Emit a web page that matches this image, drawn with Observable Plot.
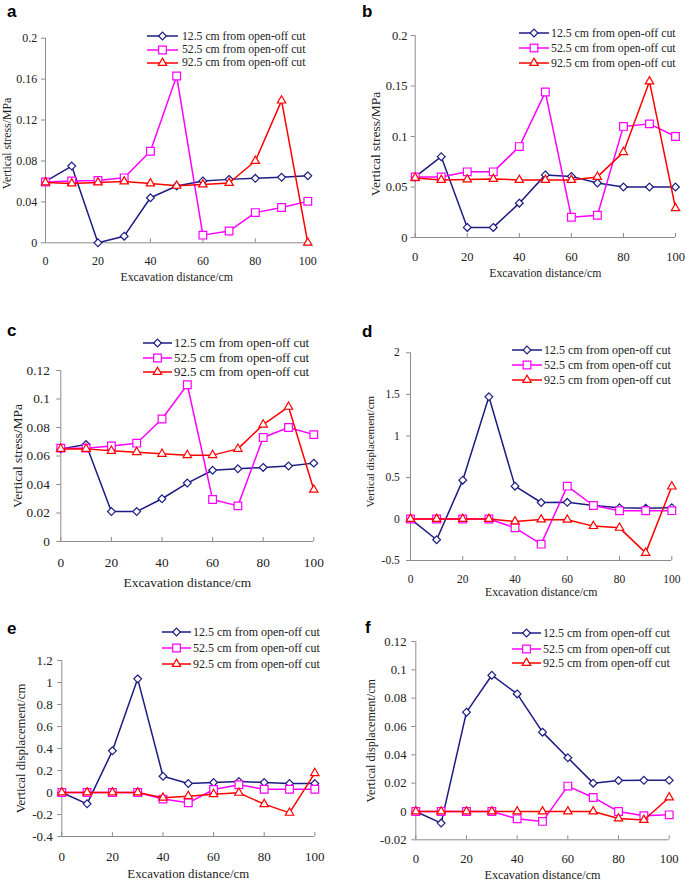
<!DOCTYPE html>
<html><head><meta charset="utf-8">
<script src="https://cdn.jsdelivr.net/npm/d3@7"></script>
<script src="https://cdn.jsdelivr.net/npm/@observablehq/plot@0.6"></script>
<style>
html,body{margin:0;padding:0;background:#fff;}
#root{position:relative;width:685px;height:883px;overflow:hidden;font-family:"Liberation Serif","Times New Roman",serif;color:#222;}
.lbl{position:absolute;font-family:"Liberation Sans",Arial,sans-serif;font-weight:bold;font-size:17px;line-height:17px;color:#000;}
.leg{position:absolute;display:flex;align-items:center;height:14px;white-space:nowrap;font-family:"Liberation Serif","Times New Roman",serif;color:#222;}
#root > svg{position:absolute;overflow:visible;font-family:"Liberation Serif","Times New Roman",serif !important;}
#root > svg text{font-family:"Liberation Serif","Times New Roman",serif !important;}
</style></head><body><div id="root"></div>
<script>
// ---------- data ----------
const distance = [0, 10, 20, 30, 40, 50, 60, 70, 80, 90, 100];
const seriesNames = ["12.5 cm from open-off cut", "52.5 cm from open-off cut", "92.5 cm from open-off cut"];
const xTicks = [0, 20, 40, 60, 80, 100];
const xTitle = "Excavation distance/cm";

// panel a: vertical stress (MPa)
const a125 = [0.060, 0.075, 0.000, 0.0065, 0.044, 0.0555, 0.0605, 0.062, 0.063, 0.064, 0.0655];
const a525 = [0.0595, 0.0605, 0.061, 0.0635, 0.0895, 0.163, 0.0075, 0.0115, 0.0295, 0.0345, 0.0405];
const a925 = [0.059, 0.058, 0.059, 0.060, 0.058, 0.0557, 0.057, 0.0585, 0.080, 0.139, 0.000];
const aYTicks = [0, 0.04, 0.08, 0.12, 0.16, 0.2];

// panel b: vertical stress (MPa)
const b125 = [0.060, 0.080, 0.010, 0.010, 0.034, 0.062, 0.0605, 0.054, 0.050, 0.050, 0.050];
const b525 = [0.060, 0.060, 0.065, 0.065, 0.090, 0.144, 0.020, 0.022, 0.110, 0.1125, 0.100];
const b925 = [0.059, 0.057, 0.0575, 0.058, 0.057, 0.057, 0.057, 0.060, 0.0845, 0.1545, 0.029];
const bYTicks = [0, 0.05, 0.1, 0.15, 0.2];

// panel c: vertical stress (MPa)
const c125 = [0.065, 0.068, 0.021, 0.021, 0.030, 0.041, 0.050, 0.051, 0.052, 0.053, 0.055];
const c525 = [0.0655, 0.0655, 0.067, 0.069, 0.086, 0.110, 0.0295, 0.025, 0.073, 0.080, 0.075];
const c925 = [0.065, 0.065, 0.0636, 0.0627, 0.0615, 0.0606, 0.0606, 0.065, 0.082, 0.0945, 0.0363];
const cYTicks = [0, 0.02, 0.04, 0.06, 0.08, 0.1, 0.12];

// panel d: vertical displacement (cm)
const d125 = [0, -0.25, 0.467, 1.47, 0.395, 0.198, 0.2, 0.162, 0.134, 0.13, 0.134];
const d525 = [0, 0, 0, 0, -0.107, -0.303, 0.395, 0.162, 0.098, 0.098, 0.1];
const d925 = [0, 0, 0, 0, -0.03, -0.006, -0.01, -0.086, -0.107, -0.408, 0.39];
const dYTicks = [-0.5, 0, 0.5, 1, 1.5, 2];

// panel e: vertical displacement (cm)
const e125 = [0, -0.103, 0.379, 1.033, 0.148, 0.082, 0.091, 0.1, 0.091, 0.082, 0.082];
const e525 = [0, 0, 0, 0, -0.06, -0.094, 0.027, 0.07, 0.03, 0.03, 0.03];
const e925 = [0, 0, 0, 0, -0.048, -0.033, -0.015, -0.003, -0.106, -0.185, 0.176];
const eYTicks = [-0.4, -0.2, 0, 0.2, 0.4, 0.6, 0.8, 1, 1.2];

// panel f: vertical displacement (cm)
const f125 = [0, -0.0082, 0.0701, 0.0962, 0.083, 0.056, 0.0379, 0.020, 0.0219, 0.022, 0.022];
const f525 = [0, 0, 0, 0, -0.0052, -0.007, 0.0179, 0.0099, 0, -0.003, -0.0024];
const f925 = [0, 0, 0, 0, 0, 0, 0, 0, -0.005, -0.006, 0.0099];
const fYTicks = [-0.02, 0, 0.02, 0.04, 0.06, 0.08, 0.1, 0.12];

// ---------- styling / layout ----------
const colors = ["#1c1c82", "#ff00ff", "#ff0000"];
const symbols = ["diamond2", "square2", "triangle2"];
const d3symbols = [d3.symbolDiamond2, d3.symbolSquare2, d3.symbolTriangle2];
const radii = [3.5, 4.9, 4.0];

const panels = [
  {id:"a", series:[a125,a525,a925], yDomain:[0,0.2], yTicks:aYTicks, yTitle:"Vertical stress/MPa",
   box:{left:0,top:0,w:342,h:290}, frame:{x0:45,x1:307.3,yt:37.7,yb:242.3},
   tickFont:12, yTitleFont:11.8, xTitleFont:11.8, legFont:11.7,
   yLabelGap:8.3, xLabelOff:17.7, xTitleOff:34.7, yTitleDx:-38, yTitleDy:3,
   leg:{x0:147,x1:178,tx:182,rows:[36,49.5,62.5]}, lbl:{x:7,y:2.6}},
  {id:"b", series:[b125,b525,b925], yDomain:[0,0.2], yTicks:bYTicks, yTitle:"Vertical stress/MPa",
   box:{left:342,top:0,w:343,h:290}, frame:{x0:414.7,x1:675,yt:35,yb:237},
   tickFont:12.5, yTitleFont:13.5, xTitleFont:11.8, legFont:11.8,
   yLabelGap:7.7, xLabelOff:19, xTitleOff:36, yTitleDx:-40, yTitleDy:7.5,
   leg:{x0:519,x1:549,tx:551,rows:[33,48,63]}, lbl:{x:362,y:2.6}},
  {id:"c", series:[c125,c525,c925], yDomain:[0,0.12], yTicks:cYTicks, yTitle:"Vertical stress/MPa",
   box:{left:0,top:290,w:342,h:310}, frame:{x0:60.3,x1:313.3,yt:370,yb:541},
   tickFont:13.3, yTitleFont:13.4, xTitleFont:13.4, legFont:12.8,
   yLabelGap:11, xLabelOff:21, xTitleOff:41, yTitleDx:-43, yTitleDy:0,
   leg:{x0:143,x1:172,tx:174,rows:[343,358,372]}, lbl:{x:7,y:321.6}},
  {id:"d", series:[d125,d525,d925], yDomain:[-0.5,2], yTicks:dYTicks, yTitle:"Vertical displacement/cm",
   box:{left:342,top:290,w:343,h:310}, frame:{x0:410,x1:671.3,yt:352.3,yb:560},
   tickFont:11.5, yTitleFont:11, xTitleFont:11.8, legFont:12,
   yLabelGap:10.7, xLabelOff:18, xTitleOff:31.5, yTitleDx:-40, yTitleDy:-5,
   leg:{x0:512,x1:542,tx:544,rows:[350,365,380]}, lbl:{x:362,y:322.6}},
  {id:"e", series:[e125,e525,e925], yDomain:[-0.4,1.2], yTicks:eYTicks, yTitle:"Vertical displacement/cm",
   box:{left:0,top:590,w:342,h:293}, frame:{x0:61.3,x1:314.3,yt:660,yb:836},
   tickFont:13, yTitleFont:12.8, xTitleFont:12.8, legFont:12,
   yLabelGap:9, xLabelOff:20, xTitleOff:37, yTitleDx:-41, yTitleDy:0,
   leg:{x0:162,x1:191,tx:193,rows:[632,648,664]}, lbl:{x:7,y:619.6}},
  {id:"f", series:[f125,f525,f925], yDomain:[-0.02,0.12], yTicks:fYTicks, yTitle:"Vertical displacement/cm",
   box:{left:342,top:590,w:343,h:293}, frame:{x0:415.3,x1:668.7,yt:641,yb:839.3},
   tickFont:12.7, yTitleFont:12.2, xTitleFont:12.2, legFont:12,
   yLabelGap:9.3, xLabelOff:18.7, xTitleOff:35.7, yTitleDx:-45, yTitleDy:0,
   leg:{x0:512,x1:541,tx:543,rows:[633,649,663]}, lbl:{x:365,y:618.6}}
];

const fmt = d => String(+(+d).toFixed(4));
const root = document.getElementById("root");

for (const p of panels) {
  const {box, frame} = p;
  const marginLeft = frame.x0 - box.left;
  const marginRight = box.left + box.w - frame.x1;
  const marginTop = frame.yt - box.top;
  const marginBottom = box.top + box.h - frame.yb;
  const xOff = p.xLabelOff - 0.36 * p.tickFont;

  const marks = [
    Plot.ruleX([0], {stroke: "#8c8c8c", strokeWidth: 1}),
    Plot.ruleY([p.yDomain[0]], {stroke: "#8c8c8c", strokeWidth: 1}),
    Plot.axisY(p.yTicks, {anchor: "left", tickSize: 4, tickPadding: p.yLabelGap - 4, tickFormat: fmt,
      stroke: "#8c8c8c", fill: "#222", fontSize: p.tickFont, label: null}),
    Plot.axisX(xTicks, {anchor: "bottom", tickSize: -4, tickPadding: xOff + 4, tickFormat: fmt,
      stroke: "#8c8c8c", fill: "#222", fontSize: p.tickFont, label: null}),
    Plot.text([xTitle], {text: d => d, frameAnchor: "bottom", dy: p.xTitleOff, lineAnchor: "middle",
      fontSize: p.xTitleFont, fill: "#222"}),
    Plot.text([p.yTitle], {text: d => d, frameAnchor: "left", dx: p.yTitleDx, dy: p.yTitleDy, rotate: -90,
      lineAnchor: "middle", textAnchor: "middle", fontSize: p.yTitleFont, fill: "#222"})
  ];
  p.series.forEach((arr, k) => {
    marks.push(Plot.line(distance, {x: d => d, y: (d, i) => arr[i], stroke: colors[k], strokeWidth: 1.5}));
    marks.push(Plot.dot(distance, {x: d => d, y: (d, i) => arr[i], symbol: symbols[k], r: radii[k],
      stroke: colors[k], fill: "white", strokeWidth: 1.2}));
  });

  const svg = Plot.plot({
    width: box.w, height: box.h,
    marginLeft, marginRight, marginTop, marginBottom,
    x: {domain: [0, 100]},
    y: {domain: p.yDomain},
    style: {background: "transparent", overflow: "visible"},
    marks
  });
  svg.setAttribute("font-family", '"Liberation Serif", "Times New Roman", serif');
  svg.style.position = "absolute";
  svg.style.left = box.left + "px";
  svg.style.top = box.top + "px";
  root.appendChild(svg);

  // legend
  p.leg.rows.forEach((cy, k) => {
    const row = document.createElement("div");
    row.className = "leg";
    row.style.left = p.leg.x0 + "px";
    row.style.top = (cy - 7) + "px";
    row.style.fontSize = p.legFont + "px";
    const w = p.leg.x1 - p.leg.x0;
    const ns = "http://www.w3.org/2000/svg";
    const s = document.createElementNS(ns, "svg");
    s.setAttribute("width", w); s.setAttribute("height", 14);
    s.style.overflow = "visible";
    const ln = document.createElementNS(ns, "line");
    ln.setAttribute("x1", 0); ln.setAttribute("x2", w); ln.setAttribute("y1", 7); ln.setAttribute("y2", 7);
    ln.setAttribute("stroke", colors[k]); ln.setAttribute("stroke-width", 1.5);
    s.appendChild(ln);
    const pth = document.createElementNS(ns, "path");
    pth.setAttribute("d", d3.symbol().type(d3symbols[k]).size(Math.PI * radii[k] * radii[k])());
    pth.setAttribute("transform", `translate(${w / 2},7)`);
    pth.setAttribute("fill", "white"); pth.setAttribute("stroke", colors[k]); pth.setAttribute("stroke-width", 1.2);
    s.appendChild(pth);
    row.appendChild(s);
    const t = document.createElement("span");
    t.textContent = seriesNames[k];
    t.style.marginLeft = (p.leg.tx - p.leg.x1) + "px";
    row.appendChild(t);
    root.appendChild(row);
  });

  // panel letter
  const lb = document.createElement("div");
  lb.className = "lbl";
  lb.style.left = p.lbl.x + "px";
  lb.style.top = p.lbl.y + "px";
  lb.textContent = p.id;
  root.appendChild(lb);
}
</script>
</body></html>
